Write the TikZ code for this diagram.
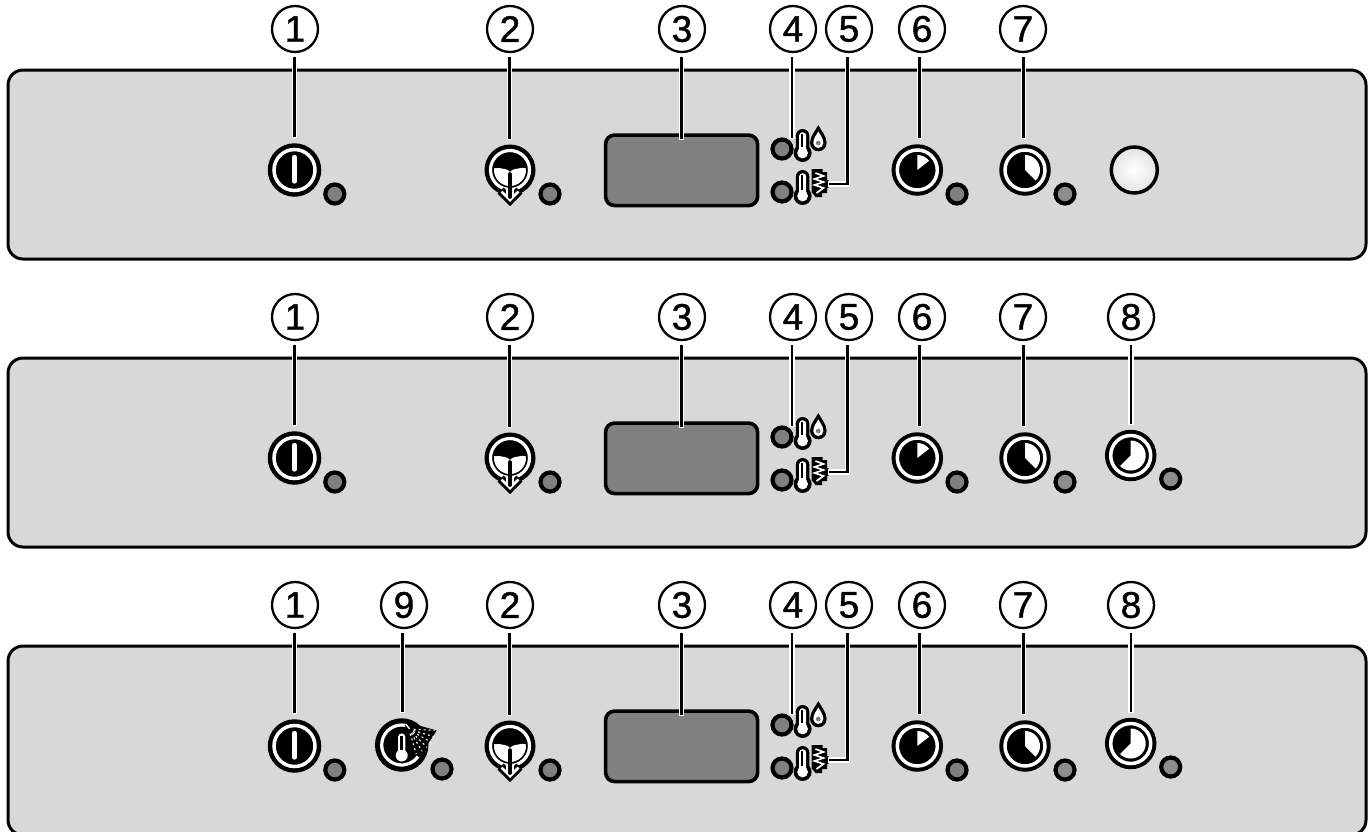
\documentclass[tikz,border=0pt]{standalone}
\usepackage{fontspec}
\setmainfont{Liberation Sans}[FakeBold=1.2]
\definecolor{panelgray}{HTML}{D8D8D8}
\definecolor{ledgray}{HTML}{808080}
\definecolor{ledlight}{HTML}{8C8C8C}
\tikzset{
  panelbox/.style={draw=black,line width=3pt,fill=panelgray,rounded corners=15pt,minimum width=1358pt,minimum height=189pt,inner sep=0pt,outer sep=0pt},
  displaybox/.style={draw=black,line width=3.6pt,fill=ledgray,rounded corners=9pt,minimum width=152pt,minimum height=70.5pt,inner sep=0pt,outer sep=0pt},
  numlabel/.style={circle,draw=black,line width=2.3pt,minimum size=46pt,inner sep=0pt,outer sep=5pt,font=\fontsize{37}{37}\selectfont},
  led/.style={circle,draw=black,line width=4.2pt,fill=ledgray,minimum size=19pt,inner sep=0pt},
  btnbody/.style={circle,fill=black,minimum size=53.5pt,inner sep=0pt,outer sep=6pt},
  whitering/.style={draw=white,line width=3.5pt},
  leaderline/.style={draw=black,line width=2.8pt},
  leaderhalo/.style={draw=white,line width=5.2pt,shorten >=-1pt},
}
% button with a clockwise white wedge from 12 o'clock down to the given angle
\newcommand\wedgebtn[5]{% name, x, y, end angle, radius
  \node[btnbody,minimum size=51.5pt] (#1) at (#2,-#3) {};
  \draw[whitering] (#1.center) circle (20pt);
  \fill[white] (#1.center) -- ++(90:#5pt) arc[start angle=90,end angle=#4,radius=#5pt] -- cycle;
}
\newcommand\powerbtn[3]{%
  \node[btnbody] (#1) at (#2,-#3) {};
  \draw[whitering] (#1.center) circle (20.5pt);
  \draw[white,line width=4.2pt,line cap=round] ([yshift=13pt]#1.center) -- ([yshift=-11.5pt]#1.center);
}
\newcommand\drainbtn[3]{%
  \node[btnbody,minimum size=51pt] (#1) at (#2,-#3) {};
  \begin{scope}[shift={(#1.center)}]
    \draw[whitering,line width=3.2pt] (0,0) circle (19.5pt);
    \begin{scope}
      \clip (0,0) circle (16pt);
      \fill[white] (-17,1.5) .. controls (-11,3) and (-8,1) .. (-5,1)
        .. controls (-3,1) and (-1,-1) .. (0,-2) .. controls (1,-1) and (3,1) .. (5,1)
        .. controls (8,1) and (11,3) .. (17,1.5) -- (17,-20) -- (-17,-20) -- cycle;
    \end{scope}
    \draw[black,line width=8.5pt,miter limit=10] (-9.5,-20.5) -- (0,-30) -- (9.5,-20.5);
    \draw[white,line width=8pt] (0,-18) -- (0,-27);
    \draw[white,line width=2.8pt,miter limit=10] (-8.5,-21.5) -- (0,-30) -- (8.5,-21.5);
    \draw[black,line width=3.6pt,line cap=round] (0,-4) -- (0,-27);
  \end{scope}
}
\newcommand\thermo[3]{% x, bulb y, top y
  \fill[black] (#1-6.8,-#3-6.8) arc[start angle=180,end angle=0,radius=6.8pt] -- (#1+6.8,-#2) -- (#1-6.8,-#2) -- cycle;
  \fill[black] (#1,-#2) circle (9pt);
  \fill[white] (#1,-#2) circle (5.4pt);
  \fill[white] (#1-3.6,-#3-6.8) arc[start angle=180,end angle=0,radius=3.6pt] -- (#1+3.6,-#2) -- (#1-3.6,-#2) -- cycle;
  \draw[black,line width=2.4pt] (#1-.4,-#3-5) -- (#1-.4,-#2+6);
}
\newcommand\dropicon[2]{% x, top y
  \begin{scope}[shift={(#1,-#2)}]
    \fill[black] (0,3) .. controls (3,-3) and (8.3,-8) .. (8.3,-15) arc[start angle=0,end angle=-180,radius=8.3pt] .. controls (-8.3,-8) and (-3,-3) .. (0,3) -- cycle;
    \fill[white] (0,-3.5) .. controls (1.5,-6.5) and (5,-10) .. (5,-15) arc[start angle=0,end angle=-180,radius=5pt] .. controls (-5,-10) and (-1.5,-6.5) .. (0,-3.5) -- cycle;
    \fill[ledgray] (0,-15) circle (2.4pt);
  \end{scope}
}
\newcommand\heaticon[2]{% x, top y
  \begin{scope}[shift={(#1,-#2)}]
    \fill[black] (-7,0) -- (4,0) -- (4,-3) -- (8.5,-3) -- (8.5,-11) -- (10,-11) -- (10,-19) -- (8.5,-19) -- (8.5,-24) -- (3.5,-24) -- (3.5,-28) -- (-3,-28) -- (-7,-23) -- cycle;
    \draw[white,line width=1.7pt,line join=miter] (-3,-4) -- (5,-7) -- (-4,-10) -- (5,-13) -- (-4,-16) -- (5,-19) -- (-2,-24);
  \end{scope}
}
\newcommand\leader[3]{% label, target, x
  \coordinate (tmpx) at (#3,0);
  \draw[leaderhalo] (#1.south -| tmpx) -- (#2.north -| tmpx);
  \draw[leaderline] (#1.south -| tmpx) -- (#2.north -| tmpx);
}
\newcommand\numlab[3]{\node[numlabel] (#1) at (#2,-29) {#3};}
% everything shared between the three panels; #1 = prefix
\newcommand\commonrow[1]{%
  \node[panelbox] (#1panel) at (687,-164.5) {};
  \powerbtn{#1b1}{294.5}{170}
  \node[led] (#1l1) at (334.8,-194) {};
  \drainbtn{#1b2}{510}{170}
  \node[led] (#1l2) at (550,-194) {};
  \node[displaybox] (#1disp) at (681.6,-170.3) {};
  \node[led] (#1l4) at (782,-149) {};
  \thermo{802.6}{153}{129}
  \dropicon{818.3}{128}
  \node[led] (#1l5) at (782,-192) {};
  \thermo{802.6}{196}{170}
  \heaticon{818.5}{169}
  \coordinate (#1e3) at (681.5,-139);
  \coordinate (#1e4) at (792,-138);
  \coordinate (#1e5) at (829,-184);
  \coordinate (#1k5) at (847.5,-184);
  \wedgebtn{#1b6}{917.3}{170}{38}{15}
  \node[led] (#1l6) at (957,-194) {};
  \wedgebtn{#1b7}{1025}{170}{-45}{15}
  \node[led,fill=ledlight] (#1l7) at (1065,-194) {};
  \numlab{#1n1}{295}{1}
  \numlab{#1n2}{510}{2}
  \numlab{#1n3}{682}{3}
  \numlab{#1n4}{793}{4}
  \numlab{#1n5}{849}{5}
  \numlab{#1n6}{922}{6}
  \numlab{#1n7}{1023}{7}
  \leader{#1n1}{#1b1}{294.8}
  \leader{#1n2}{#1b2}{509.5}
  \draw[leaderhalo] (#1n3.south -| #1e3) -- (#1e3);
  \draw[leaderline] (#1n3.south -| #1e3) -- (#1e3);
  \draw[leaderhalo] (#1n4.south -| #1e4) -- (#1e4);
  \draw[leaderline] (#1n4.south -| #1e4) -- (#1e4);
  \draw[leaderhalo,line join=miter] (#1n5.south -| #1k5) -- (#1k5) -- (#1e5);
  \draw[leaderline,line join=miter] (#1n5.south -| #1k5) -- (#1k5) -- (#1e5);
  \leader{#1n6}{#1b6}{919.5}
  \leader{#1n7}{#1b7}{1023.5}
}
\newcommand\eightbtn[1]{%
  \wedgebtn{#1b8}{1130.7}{167.5}{-135}{15}
  \node[led,fill=ledlight] (#1l8) at (1170.7,-191) {};
  \numlab{#1n8}{1131}{8}
  \leader{#1n8}{#1b8}{1131}
}
\begin{document}
\begin{tikzpicture}[x=1pt,y=1pt]
  \clip (0,0) rectangle (1368,-831);
  \fill[white] (0,0) rectangle (1368,-831);
  % panel 1
  \commonrow{a}
  \node[circle,draw=black,line width=3.5pt,shading=radial,inner color=white,outer color=panelgray!70,minimum size=46pt,inner sep=0pt] (awhite) at (1134.3,-170) {};
  % panel 2
  \begin{scope}[yshift=-288pt]
    \commonrow{b}
    \eightbtn{b}
  \end{scope}
  % panel 3
  \begin{scope}[yshift=-576pt]
    \commonrow{c}
    \eightbtn{c}
    % button 9
    \node[btnbody] (cb9) at (401.7,-169) {};
    \begin{scope}[shift={(cb9.center)}]
      \draw[white,line width=3.2pt] (80:20pt) arc[start angle=80,end angle=-35+360,radius=20pt];
      \fill[black] (5,23) -- (35,14.5) -- (21,-7) -- cycle;
      \fill[black] (0,0) -- (6,20) -- (21,-7) -- cycle;
      \foreach \a in {-3,-17,-31,-45,-59,-73}
        \draw[white,line width=1.1pt,dash pattern=on 2pt off 3pt] (7,16)++(\a:5pt) -- ++(\a:21pt);
      \draw[white,line width=1.4pt] (4,21) -- (8,16);
      \fill[white] (-3.6,8) arc[start angle=180,end angle=0,radius=3.6pt] -- (3.6,-10) -- (-3.6,-10) -- cycle;
      \fill[white] (0,-10.5) circle (6pt);
      \draw[black,line width=2.2pt] (-.3,9) -- (-.3,-5);
    \end{scope}
    \node[led] (cl9) at (442,-193) {};
    \numlab{cn9}{404}{9}
    \leader{cn9}{cb9}{402.5}
  \end{scope}
\end{tikzpicture}
\end{document}
